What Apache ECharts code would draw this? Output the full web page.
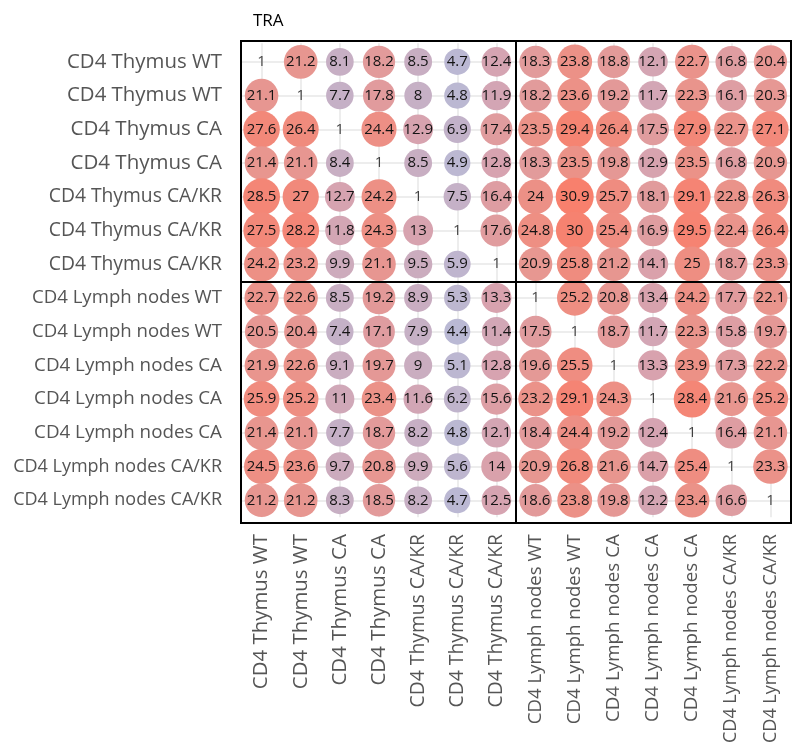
<!DOCTYPE html>
<html><head><meta charset="utf-8">
<script src="https://cdn.jsdelivr.net/npm/echarts@6/dist/echarts.min.js"></script>
<style>html,body{margin:0;padding:0;background:#fff}#c{width:792px;height:746px}</style>
</head><body><div id="c"></div>
<script>
const categories = [
  'CD4 Thymus WT','CD4 Thymus WT','CD4 Thymus CA','CD4 Thymus CA',
  'CD4 Thymus CA/KR','CD4 Thymus CA/KR','CD4 Thymus CA/KR',
  'CD4 Lymph nodes WT','CD4 Lymph nodes WT','CD4 Lymph nodes CA','CD4 Lymph nodes CA',
  'CD4 Lymph nodes CA','CD4 Lymph nodes CA/KR','CD4 Lymph nodes CA/KR'
];
const row01 = [1, 21.2, 8.1, 18.2, 8.5, 4.7, 12.4, 18.3, 23.8, 18.8, 12.1, 22.7, 16.8, 20.4];
const row02 = [21.1, 1, 7.7, 17.8, 8, 4.8, 11.9, 18.2, 23.6, 19.2, 11.7, 22.3, 16.1, 20.3];
const row03 = [27.6, 26.4, 1, 24.4, 12.9, 6.9, 17.4, 23.5, 29.4, 26.4, 17.5, 27.9, 22.7, 27.1];
const row04 = [21.4, 21.1, 8.4, 1, 8.5, 4.9, 12.8, 18.3, 23.5, 19.8, 12.9, 23.5, 16.8, 20.9];
const row05 = [28.5, 27, 12.7, 24.2, 1, 7.5, 16.4, 24, 30.9, 25.7, 18.1, 29.1, 22.8, 26.3];
const row06 = [27.5, 28.2, 11.8, 24.3, 13, 1, 17.6, 24.8, 30, 25.4, 16.9, 29.5, 22.4, 26.4];
const row07 = [24.2, 23.2, 9.9, 21.1, 9.5, 5.9, 1, 20.9, 25.8, 21.2, 14.1, 25, 18.7, 23.3];
const row08 = [22.7, 22.6, 8.5, 19.2, 8.9, 5.3, 13.3, 1, 25.2, 20.8, 13.4, 24.2, 17.7, 22.1];
const row09 = [20.5, 20.4, 7.4, 17.1, 7.9, 4.4, 11.4, 17.5, 1, 18.7, 11.7, 22.3, 15.8, 19.7];
const row10 = [21.9, 22.6, 9.1, 19.7, 9, 5.1, 12.8, 19.6, 25.5, 1, 13.3, 23.9, 17.3, 22.2];
const row11 = [25.9, 25.2, 11, 23.4, 11.6, 6.2, 15.6, 23.2, 29.1, 24.3, 1, 28.4, 21.6, 25.2];
const row12 = [21.4, 21.1, 7.7, 18.7, 8.2, 4.8, 12.1, 18.4, 24.4, 19.2, 12.4, 1, 16.4, 21.1];
const row13 = [24.5, 23.6, 9.7, 20.8, 9.9, 5.6, 14, 20.9, 26.8, 21.6, 14.7, 25.4, 1, 23.3];
const row14 = [21.2, 21.2, 8.3, 18.5, 8.2, 4.7, 12.5, 18.6, 23.8, 19.8, 12.2, 23.4, 16.6, 1];
const rows = [row01,row02,row03,row04,row05,row06,row07,row08,row09,row10,row11,row12,row13,row14];
const groupSplit = 7; // thymus | lymph nodes

const offDiag = [], diag = [];
rows.forEach((r, i) => r.forEach((v, j) => {
  (i === j ? diag : offDiag).push([j, i, v]);
}));

const FONT = 'Open Sans';
// label font sizes (style only): longer labels are drawn slightly smaller in the reference
const labelSize = {
  'CD4 Thymus WT': 20.4, 'CD4 Thymus CA': 20.5, 'CD4 Thymus CA/KR': 19.3,
  'CD4 Lymph nodes WT': 18.6, 'CD4 Lymph nodes CA': 18.8, 'CD4 Lymph nodes CA/KR': 18
};
const catItems = categories.map(c => ({value: c, textStyle: {fontSize: labelSize[c]}}));

const chart = echarts.init(document.getElementById('c'), null, {renderer: 'canvas'});
const labelStyle = {show: true, position: 'inside', formatter: p => String(p.value[2]),
  color: '#141414', fontSize: 15, fontFamily: FONT};
chart.setOption({
  animation: false,
  backgroundColor: '#fff',
  title: {text: 'TRA', left: 248, top: 8, textStyle: {fontSize: 17, fontWeight: 'normal', color: '#000', fontFamily: FONT}},
  grid: [
    {left: 242, top: 45, width: 548, height: 474},
    {left: 241, top: 41, width: 550, height: 482, show: true, borderColor: '#000', borderWidth: 2, backgroundColor: 'transparent'}
  ],
  xAxis: [
    {type: 'category', gridIndex: 0, data: catItems, position: 'bottom',
     axisLine: {show: false}, splitLine: {show: false},
     axisTick: {show: true, inside: true, length: 474, alignWithLabel: true, lineStyle: {color: '#e8e8e8', width: 1.5}},
     axisLabel: {interval: 0, rotate: 90, margin: 17, fontSize: 18, color: '#555', fontFamily: FONT}},
    {type: 'value', gridIndex: 1, min: 0, max: 14, show: false}
  ],
  yAxis: [
    {type: 'category', gridIndex: 0, data: catItems, inverse: true,
     axisLine: {show: false}, splitLine: {show: false},
     axisTick: {show: true, inside: true, length: 548, alignWithLabel: true, lineStyle: {color: '#e8e8e8', width: 1.5}},
     axisLabel: {interval: 0, margin: 20, fontSize: 18, color: '#555', fontFamily: FONT}},
    {type: 'value', gridIndex: 1, min: 0, max: 14, inverse: true, show: false}
  ],
  visualMap: {
    type: 'continuous', show: false, seriesIndex: 0, dimension: 2, min: 4.4, max: 30.9,
    inRange: {color: ['#bab9d4', '#d8a2ae', '#e9958d', '#f8806d'], symbolSize: [26, 38]}
  },
  series: [
    {type: 'scatter', xAxisIndex: 0, yAxisIndex: 0, data: offDiag, symbol: 'circle',
     itemStyle: {opacity: 1}, label: labelStyle, z: 3},
    {type: 'scatter', xAxisIndex: 0, yAxisIndex: 0, data: diag, symbolSize: 0,
     label: labelStyle, z: 3},
    {type: 'scatter', xAxisIndex: 1, yAxisIndex: 1, data: [], z: 5,
     markLine: {silent: true, symbol: 'none', label: {show: false},
       lineStyle: {color: '#000', width: 2, type: 'solid'},
       data: [{xAxis: groupSplit}, {yAxis: groupSplit}]}}
  ]
});
</script></body></html>
